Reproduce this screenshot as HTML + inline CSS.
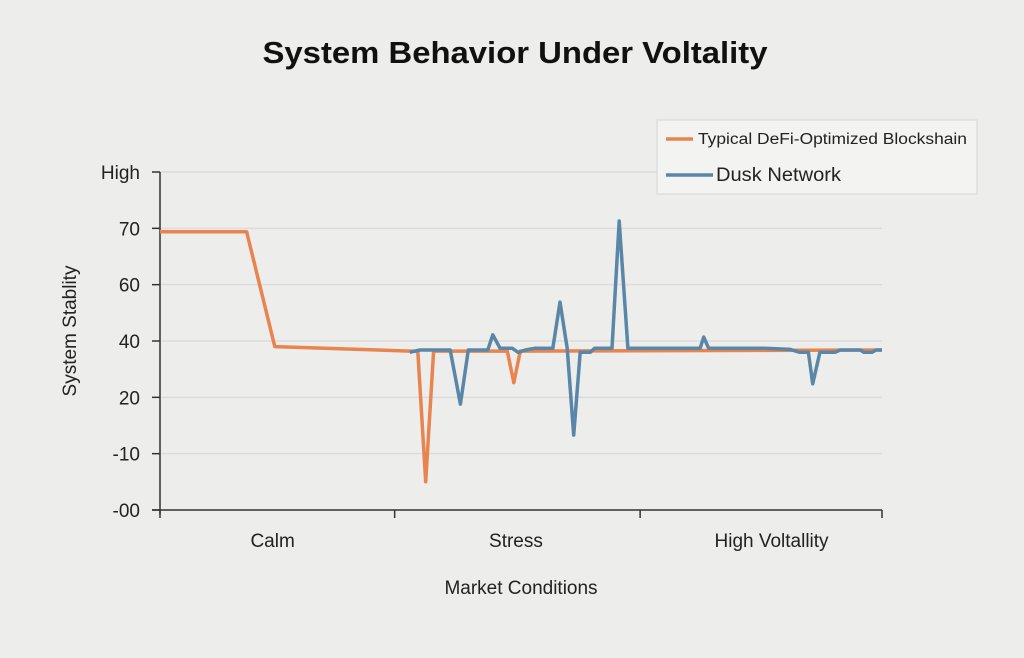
<!DOCTYPE html>
<html><head><meta charset="utf-8"><style>
html,body{margin:0;padding:0;background:#ededec;}
svg{display:block;font-family:"Liberation Sans","DejaVu Sans",sans-serif;}
</style></head><body>
<svg id="chart" width="1024" height="658" viewBox="0 0 1024 658" xmlns="http://www.w3.org/2000/svg">
<rect x="0" y="0" width="1024" height="658" fill="#ededec"/>
<text x="515" y="63" text-anchor="middle" font-size="31" font-weight="bold" fill="#111" textLength="505" lengthAdjust="spacingAndGlyphs">System Behavior Under Voltality</text>
<g id="grid"></g>
<g id="axes"></g>
<g id="series"></g>
<text transform="translate(76,331) rotate(-90)" text-anchor="middle" font-size="19" fill="#222">System Stablity</text>
<text x="521" y="594" text-anchor="middle" font-size="19" fill="#222">Market Conditions</text>
<g>
<rect x="657" y="120" width="320" height="74" fill="#f3f3f2" stroke="#d6d6d6" stroke-width="1"/>
<line x1="666" y1="139" x2="693" y2="139" stroke="#e8844f" stroke-width="3.5"/>
<text x="698" y="144" font-size="15.5" fill="#222" textLength="269" lengthAdjust="spacingAndGlyphs">Typical DeFi-Optimized Blockshain</text>
<line x1="666" y1="175" x2="713" y2="175" stroke="#5a86a8" stroke-width="3.5"/>
<text x="716" y="181" font-size="19.5" fill="#222" textLength="125" lengthAdjust="spacingAndGlyphs">Dusk Network</text>
</g>
</svg>
<script>
const yTickValues = [0, 1, 2, 3, 4, 5, 6];
const yTickLabels = ["-00", "-10", "20", "40", "60", "70", "High"];
const xTickValues = [0, 32.5, 66.5, 100];
const xCategories = ["Calm", "Stress", "High Voltallity"];
const xCategoryPos = [15.6, 49.3, 84.7];
const defiX = [0, 12.0, 15.9, 34.6, 35.7, 36.8, 37.9, 48.1, 49.0, 49.9, 100];
const defiY = [4.94, 4.94, 2.90, 2.82, 2.82, 0.50, 2.82, 2.82, 2.26, 2.82, 2.84];
const duskX = [34.6, 36.0, 40.2, 41.6, 42.7, 45.4, 46.1, 47.1, 48.8, 49.6, 50.6, 51.9, 54.4, 55.4, 56.4, 57.3, 58.2, 59.6, 60.2, 62.6, 63.6, 64.8, 74.8, 75.3, 76.0, 83.8, 87.3, 88.6, 89.8, 90.4, 91.4, 93.5, 94.2, 97.0, 97.5, 98.6, 99.2, 100];
const duskY = [2.80, 2.84, 2.84, 1.88, 2.84, 2.84, 3.11, 2.87, 2.87, 2.80, 2.84, 2.87, 2.87, 3.69, 2.87, 1.33, 2.80, 2.80, 2.87, 2.87, 5.13, 2.87, 2.87, 3.07, 2.87, 2.87, 2.85, 2.80, 2.80, 2.24, 2.80, 2.80, 2.84, 2.84, 2.80, 2.80, 2.84, 2.84];

const NS = "http://www.w3.org/2000/svg";
const X0 = 160, X1 = 882, Y0 = 510, Y1 = 172;
function xs(v){ return X0 + (v - 0) / 100 * (X1 - X0); }
function ys(v){ return Y0 - (v - 0) / 6 * (Y0 - Y1); }
function mk(tag, attrs, parent){
  const e = document.createElementNS(NS, tag);
  for (const k in attrs) e.setAttribute(k, attrs[k]);
  parent.appendChild(e); return e;
}
const grid = document.getElementById('grid');
const axes = document.getElementById('axes');
const series = document.getElementById('series');

yTickValues.forEach((v, i) => {
  const y = ys(v);
  if (i > 0) {
    const g = mk('line', {x1: X0, x2: X1, y1: y, y2: y, stroke: '#dcdcdb', 'stroke-width': 1.5}, grid);
    
    
  }
  const t = mk('line', {x1: X0 - 8, x2: X0, y1: y, y2: y, stroke: '#333', 'stroke-width': 1.5}, axes);
  
  
  const l = mk('text', {x: 140, y: y + 7, 'text-anchor': 'end', 'font-size': 19, fill: '#222'}, axes);
  l.textContent = yTickLabels[i];
  
  
});
const ya = mk('line', {x1: X0, x2: X0, y1: Y1, y2: Y0 + 4, stroke: '#333', 'stroke-width': 1.5}, axes);


const xa = mk('line', {x1: X0 - 8, x2: X1, y1: Y0, y2: Y0, stroke: '#333', 'stroke-width': 1.5}, axes);


xTickValues.forEach(v => {
  const t = mk('line', {x1: xs(v), x2: xs(v), y1: Y0, y2: Y0 + 8, stroke: '#333', 'stroke-width': 1.5}, axes);
  
  
});
xCategories.forEach((c, i) => {
  const l = mk('text', {x: xs(xCategoryPos[i]), y: 547, 'text-anchor': 'middle', 'font-size': 19, fill: '#222'}, axes);
  l.textContent = c;
  
  
});
function path(xa, ya){ return xa.map((x, i) => (i ? 'L' : 'M') + xs(x).toFixed(1) + ',' + ys(ya[i]).toFixed(1)).join(' '); }
const p1 = mk('path', {d: path(defiX, defiY), fill: 'none', stroke: '#e8844f', 'stroke-width': 3.5, 'stroke-linejoin': 'round'}, series);


const p2 = mk('path', {d: path(duskX, duskY), fill: 'none', stroke: '#5a86a8', 'stroke-width': 3.5, 'stroke-linejoin': 'round'}, series);


</script>
</body></html>
